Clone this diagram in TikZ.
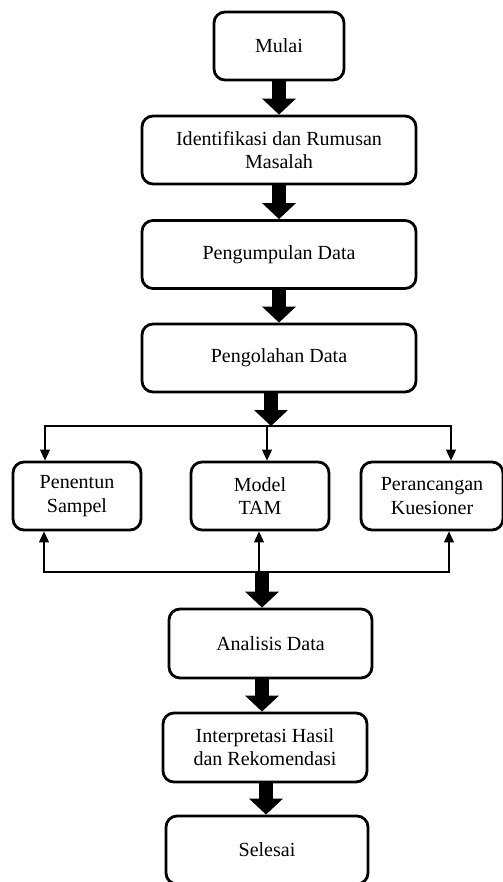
\documentclass[tikz,border=0pt]{standalone}
\usepackage{fontspec}
\setmainfont{Liberation Serif}
\usetikzlibrary{arrows.meta}

\tikzset{
  flowbox/.style={draw, line width=1.6pt, rounded corners=0.22cm, align=center,
    minimum height=1.36cm, inner sep=2pt, font=\fontsize{11.4}{13.2}\selectfont},
  bigarrow/.style={line width=0.28cm, -{Triangle[width=0.66cm,length=0.32cm]}},
  thinarrow/.style={line width=0.6pt, -{Triangle[width=0.2cm,length=0.22cm]}}
}

\begin{document}
\begin{tikzpicture}
    \useasboundingbox (0,0) rectangle (10.04,-17.64);

    % Main steps
    \node[flowbox, minimum width=2.6cm] (mulai) at (5.58,-0.92) {Mulai};
    \node[flowbox, minimum width=5.48cm] (ident) at (5.58,-3.0) {Identifikasi dan Rumusan\\Masalah};
    \node[flowbox, minimum width=5.48cm] (kumpul) at (5.58,-5.09) {Pengumpulan Data};
    \node[flowbox, minimum width=5.48cm] (olah) at (5.58,-7.16) {Pengolahan Data};

    \draw[bigarrow] (mulai) -- (ident);
    \draw[bigarrow] (ident) -- (kumpul);
    \draw[bigarrow] (kumpul) -- (olah);

    % Three parallel steps
    \node[flowbox, minimum width=2.56cm] (sampel) at (1.54,-9.92) {Penentun\\Sampel};
    \node[flowbox, minimum width=2.76cm] (tam) at (5.2,-9.92) {Model\\TAM};
    \node[flowbox, minimum width=2.84cm] (kuesioner) at (8.64,-9.92) {Perancangan\\Kuesioner};

    \coordinate (bagi) at (5.42,-8.52);
    \draw[bigarrow] (olah.south -| bagi) -- (bagi);
    \draw[thinarrow] (bagi) -| ([xshift=-0.64cm]sampel.north);
    \draw[thinarrow] (bagi) -| ([xshift=0.14cm]tam.north);
    \draw[thinarrow] (bagi) -| ([xshift=0.38cm]kuesioner.north);

    % Last steps
    \node[flowbox, minimum width=4.06cm, minimum height=1.38cm] (analisis) at (5.41,-12.87) {Analisis Data};
    \node[flowbox, minimum width=4.08cm, minimum height=1.38cm] (hasil) at (5.3,-14.95) {Interpretasi Hasil\\dan Rekomendasi};
    \node[flowbox, minimum width=4.04cm] (selesai) at (5.34,-17.0) {Selesai};

    \coordinate (gabung) at (5.24,-11.44);
    \draw[thinarrow] (gabung) -| ([xshift=-0.66cm]sampel.south);
    \draw[thinarrow] (gabung) -| ([xshift=-0.02cm]tam.south);
    \draw[thinarrow] (gabung) -| ([xshift=0.34cm]kuesioner.south);
    \draw[bigarrow] (gabung) -- (gabung |- analisis.north);

    \draw[bigarrow] (analisis.south -| gabung) -- (gabung |- hasil.north);
    \draw[bigarrow] ([xshift=0.02cm]hasil.south) -- ([xshift=0.02cm]hasil.south |- selesai.north);
\end{tikzpicture}
\end{document}
